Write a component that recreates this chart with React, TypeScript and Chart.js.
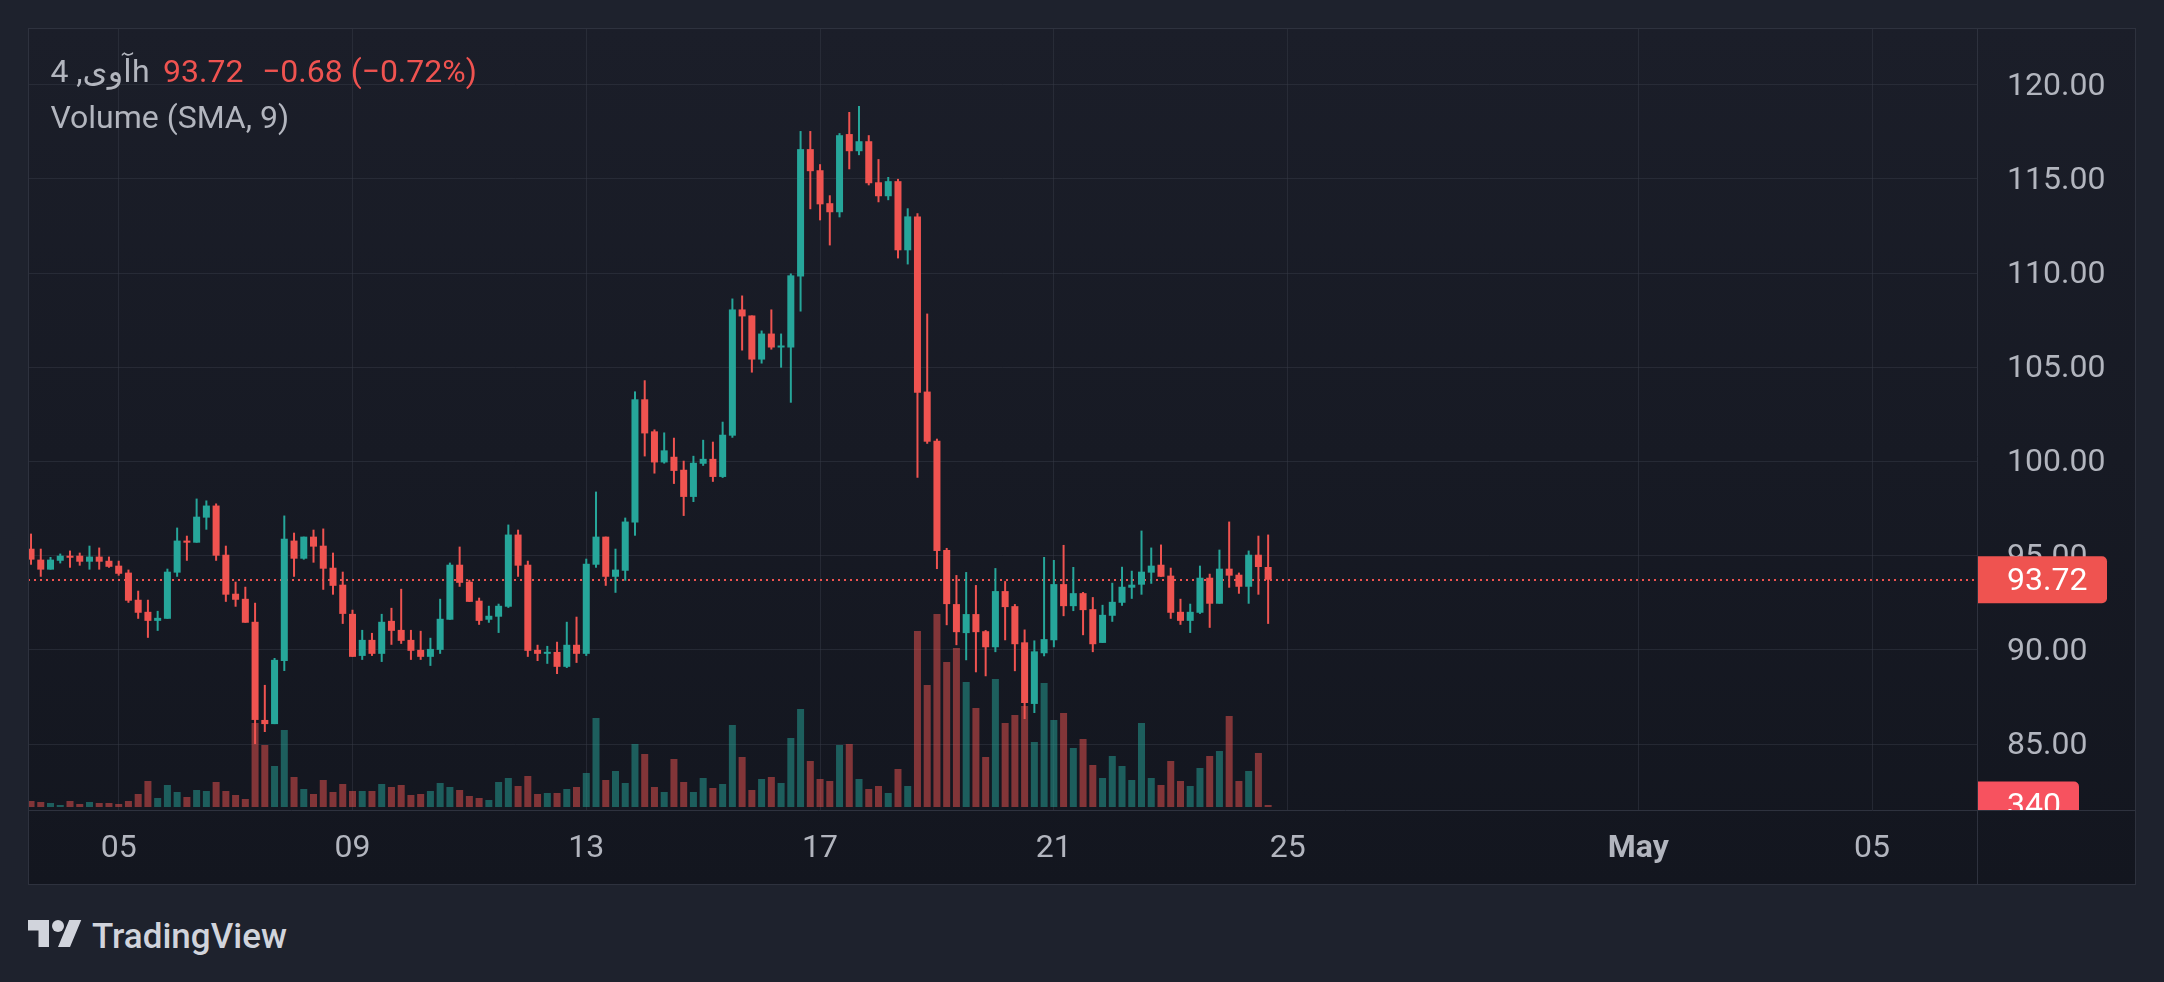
import React, { useEffect, useRef } from "react";
import { Chart, registerables } from "chart.js";

Chart.register(...registerables);

// ---- data (4h candles, index 0 = Apr 3 12:00) ----
const opens = [
  95.37, 94.79, 94.26, 94.73, 95.0, 95.0, 94.68, 94.95,
  94.73, 94.47, 94.1, 92.66, 92.02, 91.54, 91.65, 94.1,
  95.8, 95.69, 97.02, 97.66, 95.05, 92.98, 92.71, 91.49,
  86.28, 86.06, 89.41, 95.8, 94.84, 96.01, 95.53, 94.36,
  93.46, 91.91, 89.68, 90.53, 89.79, 91.54, 91.06, 90.53,
  90.0, 89.63, 90.0, 91.6, 94.52, 93.62, 92.61, 91.6,
  91.76, 92.29, 96.12, 94.52, 90.0, 89.79, 89.89, 89.1,
  90.27, 89.79, 94.52, 96.01, 93.88, 94.2, 96.76, 103.3,
  101.6, 99.95, 100.25, 99.56, 98.12, 99.88, 100.14, 99.18,
  101.37, 108.07, 107.75, 105.41, 106.79, 106.05, 106.05, 109.82,
  116.58, 115.46, 113.71, 113.23, 117.38, 116.47, 117.0, 114.82,
  114.08, 114.88, 111.21, 113.01, 103.71, 101.1, 95.3, 92.43,
  90.89, 91.9, 90.99, 90.14, 93.12, 92.32, 90.4, 87.13,
  89.82, 90.51, 93.49, 92.32, 93.01, 92.16, 90.37, 91.81,
  92.5, 93.3, 93.46, 94.1, 94.52, 93.94, 92.02, 91.54,
  91.97, 93.83, 92.45, 94.31, 93.99, 93.35, 95.05, 94.4,
];
const highs = [
  96.17, 95.37, 94.93, 95.11, 95.27, 95.16, 95.53, 95.43,
  94.95, 94.73, 94.26, 93.14, 92.66, 92.07, 94.31, 96.49,
  96.06, 98.03, 97.93, 97.77, 95.53, 93.62, 93.35, 92.5,
  88.14, 89.57, 97.13, 96.22, 96.01, 96.38, 96.44, 95.16,
  94.15, 92.13, 91.06, 90.9, 91.91, 92.23, 93.24, 91.06,
  91.01, 90.64, 92.71, 94.63, 95.48, 93.72, 92.77, 92.34,
  92.45, 96.65, 96.38, 94.73, 90.27, 90.21, 90.43, 91.49,
  91.76, 94.84, 98.4, 96.01, 95.37, 97.02, 103.72, 104.31,
  101.7, 101.54, 101.26, 100.04, 100.3, 101.15, 101.05, 102.11,
  108.65, 108.81, 107.75, 106.95, 108.07, 106.79, 109.98, 117.54,
  117.54, 115.78, 114.13, 117.43, 118.55, 118.87, 117.32, 116.05,
  115.1, 115.0, 113.44, 113.17, 107.85, 101.21, 95.41, 93.97,
  94.13, 93.44, 91.05, 94.34, 93.65, 92.43, 91.08, 90.5,
  94.93, 94.77, 95.57, 94.4, 93.07, 92.8, 92.39, 93.56,
  94.41, 94.2, 96.33, 95.43, 95.59, 94.36, 92.71, 92.45,
  94.47, 94.04, 95.32, 96.81, 94.1, 95.27, 96.06, 96.12,
];
const lows = [
  94.52, 93.88, 94.26, 94.59, 94.36, 94.47, 94.26, 94.26,
  94.36, 93.94, 92.5, 91.65, 90.64, 91.01, 91.65, 93.88,
  94.73, 95.69, 96.38, 94.73, 92.55, 92.29, 91.44, 85.0,
  85.64, 86.06, 88.88, 93.88, 94.79, 94.63, 93.19, 92.93,
  91.38, 89.63, 89.47, 89.68, 89.36, 90.27, 90.32, 89.47,
  89.47, 89.15, 89.79, 91.6, 93.35, 92.55, 91.33, 91.44,
  90.9, 92.23, 93.88, 89.63, 89.41, 89.26, 88.72, 89.04,
  89.31, 89.68, 94.36, 93.4, 93.03, 93.67, 96.06, 100.27,
  99.36, 99.89, 98.81, 97.11, 97.85, 99.77, 98.92, 99.13,
  101.26, 105.89, 104.72, 105.2, 105.94, 104.98, 103.12, 107.96,
  113.39, 112.8, 111.47, 112.96, 115.51, 116.26, 114.66, 113.76,
  113.87, 110.78, 110.46, 99.13, 100.94, 94.29, 91.31, 90.25,
  89.45, 88.81, 88.6, 89.88, 90.51, 88.87, 86.33, 86.65,
  89.66, 90.14, 91.79, 92.06, 90.78, 89.88, 90.37, 91.49,
  92.34, 92.71, 92.93, 93.51, 93.88, 91.65, 91.33, 90.9,
  91.91, 91.17, 92.45, 93.3, 92.98, 92.45, 92.93, 91.38,
];
const closes = [
  94.79, 94.26, 94.79, 95.0, 94.89, 94.68, 94.95, 94.68,
  94.41, 94.04, 92.61, 91.97, 91.54, 91.7, 94.15, 95.8,
  95.69, 97.07, 97.66, 95.0, 92.93, 92.66, 91.44, 86.28,
  86.06, 89.47, 95.9, 94.84, 96.01, 95.48, 94.31, 93.4,
  91.91, 89.63, 90.53, 89.79, 91.49, 91.01, 90.48, 89.95,
  89.63, 90.05, 91.65, 94.52, 93.56, 92.55, 91.54, 91.81,
  92.34, 96.12, 94.47, 89.95, 89.79, 89.89, 89.1, 90.27,
  89.79, 94.57, 96.01, 93.88, 94.26, 96.81, 103.3, 101.49,
  99.95, 100.59, 99.5, 98.12, 99.93, 100.14, 99.18, 101.42,
  108.07, 107.7, 105.41, 106.79, 106.05, 106.15, 109.88, 116.58,
  115.41, 113.65, 113.23, 117.32, 116.47, 117.0, 114.77, 114.08,
  114.88, 111.21, 113.01, 103.65, 101.05, 95.25, 92.43, 90.94,
  91.9, 90.94, 90.14, 93.12, 92.27, 90.3, 87.18, 89.92,
  90.57, 93.49, 92.32, 93.01, 92.11, 90.3, 91.86, 92.55,
  93.35, 93.46, 94.15, 94.47, 93.88, 91.97, 91.54, 92.02,
  93.83, 92.45, 94.31, 93.94, 93.35, 95.05, 94.4, 93.72,
];
const volumes = [
  1020, 850, 680, 340, 1020, 510, 850, 680,
  680, 510, 1020, 2210, 4420, 1530, 3740, 2550,
  1700, 2890, 2720, 4250, 2720, 2040, 1360, 14280,
  10540, 6970, 13090, 5100, 3060, 2210, 4590, 2550,
  3910, 2720, 2720, 2720, 3910, 3400, 3740, 2040,
  2210, 2720, 4080, 3400, 2890, 1870, 1530, 1190,
  4250, 4930, 3570, 5270, 2210, 2380, 2380, 3060,
  3400, 5780, 15130, 4590, 6120, 4080, 10710, 9010,
  3400, 2550, 8160, 4250, 2550, 4930, 3230, 3910,
  13940, 8500, 2890, 4760, 5100, 4080, 11730, 16660,
  7820, 4760, 4420, 10540, 10710, 4760, 3060, 3570,
  2380, 6460, 3570, 29920, 20740, 32810, 24650, 27030,
  21250, 16830, 8500, 21760, 14280, 15640, 17170, 11050,
  21080, 14790, 15980, 10030, 11560, 7140, 4930, 8670,
  6970, 4590, 14280, 4930, 3740, 7820, 4420, 3570,
  6630, 8670, 9520, 15470, 4420, 6120, 9180, 340,
];

// time axis: candle index of each labelled day start, and its text
const xTickIndex = [9, 33, 57, 81, 105, 129, 165, 189];
const xTickLabels = ["05", "09", "13", "17", "21", "25", "May", "05"];
const priceTicks = [85, 90, 95, 100, 105, 110, 115, 120];

const symbolTitle = "آوی, 4h";
const changeText = "−0.68 (−0.72%)";
const volumeTitle = "Volume (SMA, 9)";

// ---- styles ----
const FONT = 'Roboto, "DejaVu Sans", sans-serif';
const UP = "#26a69a";
const DOWN = "#ef5350";
const VOL_UP = "rgba(38,166,154,0.5)";
const VOL_DOWN = "rgba(239,83,80,0.5)";
const TEXT = "#b2b5be";
const GRID = "rgba(54,58,69,0.5)";
const LINE = "#2e323e";

const tvPlugin = {
  id: "tvDecor",
  beforeDraw(chart: any) {
    const { ctx, width, height } = chart;
    ctx.save();
    const g = ctx.createLinearGradient(0, 0, 0, height);
    g.addColorStop(0, "#1b1e29");
    g.addColorStop(1, "#13161f");
    ctx.fillStyle = g;
    ctx.fillRect(0, 0, width, height);
    ctx.restore();
    // nudge price-axis labels so the digits sit centred on their grid line
    const items = chart.scales.y.getLabelItems();
    items.forEach((it: any) => {
      if (!it._nudged) {
        it.textOffset += 2;
        it._nudged = true;
      }
    });
  },
  beforeDatasetsDraw(chart: any) {
    const { ctx, chartArea } = chart;
    const last = closes.length - 1;
    const y = Math.round(chart.scales.y.getPixelForValue(closes[last]));
    ctx.save();
    ctx.strokeStyle = closes[last] >= opens[last] ? UP : DOWN;
    ctx.lineWidth = 2;
    ctx.setLineDash([2, 4]);
    ctx.beginPath();
    ctx.moveTo(chartArea.left, y);
    ctx.lineTo(chartArea.right, y);
    ctx.stroke();
    ctx.restore();
  },
  afterDraw(chart: any) {
    const { ctx, chartArea, width, height } = chart;
    const last = closes.length - 1;
    ctx.save();
    // separators and frame
    ctx.strokeStyle = LINE;
    ctx.lineWidth = 1;
    ctx.beginPath();
    ctx.moveTo(chartArea.right + 0.5, 0);
    ctx.lineTo(chartArea.right + 0.5, height);
    ctx.moveTo(0, chartArea.bottom + 0.5);
    ctx.lineTo(width, chartArea.bottom + 0.5);
    ctx.stroke();
    ctx.strokeRect(0.5, 0.5, width - 1, height - 1);

    // last price label
    const py = chart.scales.y.getPixelForValue(closes[last]);
    const lx = chartArea.right + 1;
    ctx.fillStyle = closes[last] >= opens[last] ? UP : DOWN;
    ctx.beginPath();
    (ctx as any).roundRect(lx, py - 23.5, 129, 47, [0, 5, 5, 0]);
    ctx.fill();
    ctx.fillStyle = "#ffffff";
    ctx.font = `32px ${FONT}`;
    ctx.textBaseline = "middle";
    ctx.textAlign = "left";
    ctx.fillText(closes[last].toFixed(2), chartArea.right + 30, py + 2);

    // last volume label (clipped by the pane bottom)
    const vy = chart.scales.yv.getPixelForValue(volumes[last]);
    ctx.save();
    ctx.beginPath();
    ctx.rect(chartArea.right + 1, 0, width, chartArea.bottom);
    ctx.clip();
    ctx.fillStyle = "#f7525f";
    ctx.beginPath();
    (ctx as any).roundRect(lx, vy - 23.5, 101, 47, [0, 5, 5, 0]);
    ctx.fill();
    ctx.fillStyle = "#ffffff";
    ctx.fillText(String(volumes[last]), chartArea.right + 30, vy + 2);
    ctx.restore();

    // legend
    ctx.textBaseline = "alphabetic";
    ctx.font = `32px ${FONT}`;
    ctx.fillStyle = TEXT;
    ctx.fillText(symbolTitle, 22.4, 53.7);
    ctx.fillStyle = DOWN;
    ctx.fillText(closes[last].toFixed(2), 135, 53.7);
    ctx.fillText(changeText, 234, 53.7);
    ctx.fillStyle = TEXT;
    ctx.fillText(volumeTitle, 22.4, 100.3);
    ctx.restore();
  },
};

function CandleChart() {
  const ref = useRef<HTMLCanvasElement | null>(null);
  useEffect(() => {
    if (!ref.current) return;
    const idx = closes.map((_, i) => i);
    const isUp = (i: number) => closes[i] >= opens[i];
    const candleColors = idx.map((i) => (isUp(i) ? UP : DOWN));
    const chart = new Chart(ref.current, {
      type: "bar",
      data: {
        datasets: [
          {
            label: "Volume",
            yAxisID: "yv",
            data: idx.map((i) => ({ x: i, y: volumes[i] })) as any,
            backgroundColor: idx.map((i) => (isUp(i) ? VOL_UP : VOL_DOWN)),
            borderWidth: 0,
            grouped: false,
            maxBarThickness: 8,
            barPercentage: 0.9,
            order: 3,
          } as any,
          {
            label: "Wick",
            yAxisID: "y",
            data: idx.map((i) => ({ x: i, y: [lows[i], highs[i]] })) as any,
            backgroundColor: candleColors,
            borderWidth: 0,
            grouped: false,
            maxBarThickness: 2,
            order: 2,
          } as any,
          {
            label: "Body",
            yAxisID: "y",
            data: idx.map((i) => ({ x: i, y: [opens[i], closes[i]] })) as any,
            backgroundColor: candleColors,
            borderWidth: 0,
            grouped: false,
            maxBarThickness: 8,
            minBarLength: 2,
            order: 1,
          } as any,
        ],
      },
      options: {
        animation: false,
        responsive: false,
        maintainAspectRatio: false,
        layout: { padding: 0, autoPadding: false },
        plugins: {
          legend: { display: false },
          tooltip: { enabled: false },
        },
        scales: {
          x: {
            type: "linear",
            position: "bottom",
            min: -0.311,
            max: 199.77,
            offset: false,
            grid: { color: GRID, drawTicks: false, offset: false, lineWidth: 1 },
            border: { display: false },
            afterBuildTicks: (s: any) => {
              s.ticks = xTickIndex.map((v) => ({ value: v }));
            },
            afterFit: (s: any) => {
              s.height = 75;
              s.paddingLeft = 0;
              s.paddingRight = 0;
              s.paddingTop = 0;
              s.paddingBottom = 0;
            },
            ticks: {
              color: TEXT,
              padding: 20,
              maxRotation: 0,
              autoSkip: false,
              font: (c: any) => ({
                family: FONT,
                size: 32,
                weight: xTickLabels[c.index] === "May" ? "bold" : "normal",
              }),
              callback: (v: any) => {
                const k = xTickIndex.indexOf(v);
                return k >= 0 ? xTickLabels[k] : "";
              },
            },
          },
          y: {
            type: "linear",
            position: "right",
            min: 81.5,
            max: 123.01,
            grid: { color: GRID, drawTicks: false, lineWidth: 1 },
            border: { display: false },
            afterBuildTicks: (s: any) => {
              s.ticks = priceTicks.map((v) => ({ value: v }));
            },
            afterFit: (s: any) => {
              s.width = 159;
              s.paddingLeft = 0;
              s.paddingRight = 0;
              s.paddingTop = 0;
              s.paddingBottom = 0;
            },
            ticks: {
              color: TEXT,
              padding: 30,
              autoSkip: false,
              font: { family: FONT, size: 32 },
              callback: (v: any) => Number(v).toFixed(2),
            },
          },
          yv: {
            type: "linear",
            display: false,
            min: -510,
            max: 132430,
          },
        },
      } as any,
      plugins: [tvPlugin],
    });
    return () => chart.destroy();
  }, []);
  return (
    <canvas
      ref={ref}
      width={2108}
      height={857}
      style={{ position: "absolute", left: 28, top: 28, width: 2108, height: 857 }}
    />
  );
}

export default function App() {
  return (
    <div
      style={{
        position: "absolute",
        left: 0,
        top: 0,
        width: 2164,
        height: 982,
        background: "#1e222d",
        overflow: "hidden",
      }}
    >
      <CandleChart />
      <svg
        style={{ position: "absolute", left: 27.7, top: 914 }}
        width={54}
        height={42}
        viewBox="0 0 36 28"
      >
        <path d="M14 22H7V11H0V4h14v18zM28 22h-8l7.5-18h8L28 22z" fill="#d1d4dc" />
        <circle cx="20" cy="8" r="4" fill="#d1d4dc" />
      </svg>
      <div
        style={{
          position: "absolute",
          left: 92,
          top: 919,
          fontFamily: FONT,
          fontWeight: 500,
          fontSize: 35,
          lineHeight: "35px",
          color: "#d1d4dc",
          whiteSpace: "nowrap",
        }}
      >
        TradingView
      </div>
    </div>
  );
}
